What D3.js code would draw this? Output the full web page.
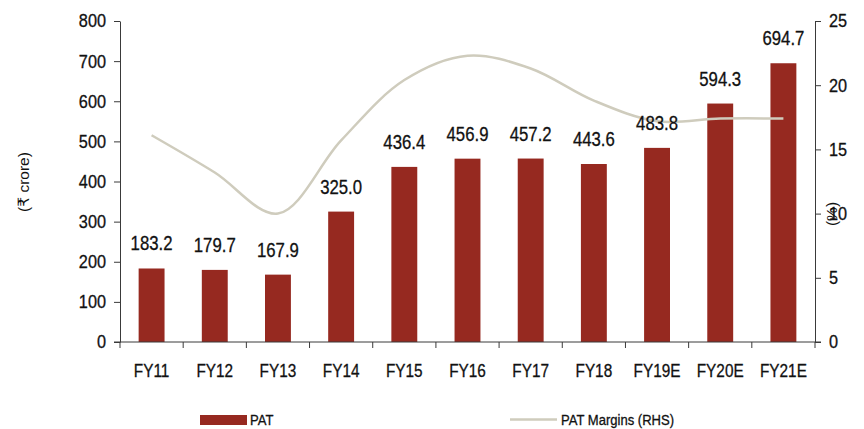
<!DOCTYPE html>
<html>
<head>
<meta charset="utf-8">
<script src="https://cdn.jsdelivr.net/npm/d3@7/dist/d3.min.js"></script>
<style>
  html, body { margin: 0; padding: 0; background: #fff; }
  svg text { font-family: "Liberation Sans", Arial, sans-serif; fill: #111; }
  .heavy { stroke: #111; stroke-width: 0.3px; }
  .axis-title { font-family: "Liberation Sans", "DejaVu Sans", sans-serif; }
</style>
</head>
<body>
<svg id="chart" width="864" height="429"></svg>
<script>
// PAT (₹ crore) and PAT margin (%) by fiscal year
const categories = ["FY11", "FY12", "FY13", "FY14", "FY15", "FY16", "FY17", "FY18", "FY19E", "FY20E", "FY21E"];
const patValues = [183.2, 179.7, 167.9, 325.0, 436.4, 456.9, 457.2, 443.6, 483.8, 594.3, 694.7];
const marginValues = [16.1, 13.2, 10.0, 15.7, 20.4, 22.3, 21.3, 18.8, 17.2, 17.4, 17.4];
const leftTicks = [0, 100, 200, 300, 400, 500, 600, 700, 800];
const rightTicks = [0, 5, 10, 15, 20, 25];

const svg = d3.select("#chart");
const plot = { left: 120, right: 815, top: 21, bottom: 342 };
const barColor = "#962920";
const lineColor = "#CFCCBD";
const axisColor = "#3a3a3a";

// Narrow lettering: squeeze text horizontally while keeping its anchor point
function condense(sel, s) {
  sel.each(function () {
    const t = d3.select(this);
    const x0 = +t.attr("x") || 0;
    t.attr("x", x0 / s).attr("transform", `scale(${s},1)`).classed("heavy", true);
  });
}

const x = d3.scaleBand()
  .domain(categories)
  .range([plot.left, plot.right])
  .paddingInner(0.59)
  .paddingOuter(0.295);

const yLeft = d3.scaleLinear().domain([0, 800]).range([plot.bottom, plot.top]);
const yRight = d3.scaleLinear().domain([0, 25]).range([plot.bottom, plot.top]);

// Bars
svg.append("g").selectAll("rect")
  .data(patValues)
  .join("rect")
  .attr("x", (d, i) => x(categories[i]))
  .attr("y", d => yLeft(d))
  .attr("width", x.bandwidth())
  .attr("height", d => yLeft(0) - yLeft(d))
  .attr("fill", barColor);

// Smoothed margin line on the right-hand scale
const line = d3.line()
  .x((d, i) => x(categories[i]) + x.bandwidth() / 2)
  .y(d => yRight(d))
  .curve(d3.curveCatmullRom.alpha(0.5));

svg.append("path")
  .datum(marginValues)
  .attr("d", line)
  .attr("fill", "none")
  .attr("stroke", lineColor)
  .attr("stroke-width", 2.5);

// Bar value labels
svg.append("g").selectAll("text")
  .data(patValues)
  .join("text")
  .attr("x", (d, i) => x(categories[i]) + x.bandwidth() / 2)
  .attr("y", d => yLeft(d) - 18)
  .attr("text-anchor", "middle")
  .style("font-size", "19.5px")
  .text(d => d.toFixed(1))
  .call(condense, 0.86);

// Axes
function styleAxis(g) {
  g.selectAll(".domain").attr("stroke", axisColor);
  g.selectAll(".tick line").attr("stroke", axisColor);
  g.selectAll(".tick text").style("font-size", "18.5px").attr("fill", "#111").call(condense, 0.88);
}

svg.append("g")
  .attr("transform", `translate(${plot.left},0)`)
  .call(d3.axisLeft(yLeft).tickValues(leftTicks).tickSize(6).tickSizeOuter(0).tickPadding(8))
  .call(styleAxis);

svg.append("g")
  .attr("transform", `translate(${plot.right},0)`)
  .call(d3.axisRight(yRight).tickValues(rightTicks).tickSize(6).tickSizeOuter(0).tickPadding(8))
  .call(styleAxis);

// Category axis with ticks on the band boundaries
const xAxisG = svg.append("g").attr("transform", `translate(0,${plot.bottom})`);
xAxisG.append("line")
  .attr("x1", plot.left - 6).attr("x2", plot.right + 6)
  .attr("y1", 0).attr("y2", 0)
  .attr("stroke", axisColor);
const step = x.step();
const boundaries = d3.range(categories.length + 1).map(i => plot.left + i * step);
xAxisG.selectAll("line.btick")
  .data(boundaries)
  .join("line")
  .attr("class", "btick")
  .attr("x1", d => d).attr("x2", d => d)
  .attr("y1", 0).attr("y2", 6)
  .attr("stroke", axisColor);
xAxisG.selectAll("text")
  .data(categories)
  .join("text")
  .attr("x", d => x(d) + x.bandwidth() / 2)
  .attr("y", 35)
  .attr("text-anchor", "middle")
  .style("font-size", "18.5px")
  .text(d => d)
  .call(condense, 0.83);

// Axis titles
svg.append("text")
  .attr("class", "axis-title")
  .attr("transform", "translate(29,182) rotate(-90)")
  .attr("text-anchor", "middle")
  .style("font-size", "15.5px")
  .text("(₹ crore)");

svg.append("text")
  .attr("class", "axis-title")
  .attr("transform", "translate(837,214) rotate(-90)")
  .attr("text-anchor", "middle")
  .style("font-size", "15.5px")
  .text("(%)");

// Legend
const legend = svg.append("g");
legend.append("rect")
  .attr("x", 200).attr("y", 415).attr("width", 47).attr("height", 10)
  .attr("fill", barColor);
legend.append("text")
  .attr("x", 250).attr("y", 425)
  .style("font-size", "14.5px")
  .text("PAT")
  .call(condense, 0.9);
legend.append("line")
  .attr("x1", 510).attr("x2", 557).attr("y1", 419.5).attr("y2", 419.5)
  .attr("stroke", lineColor).attr("stroke-width", 2.5);
legend.append("text")
  .attr("x", 561).attr("y", 425)
  .style("font-size", "14.5px")
  .text("PAT Margins (RHS)")
  .call(condense, 0.9);
</script>
</body>
</html>
